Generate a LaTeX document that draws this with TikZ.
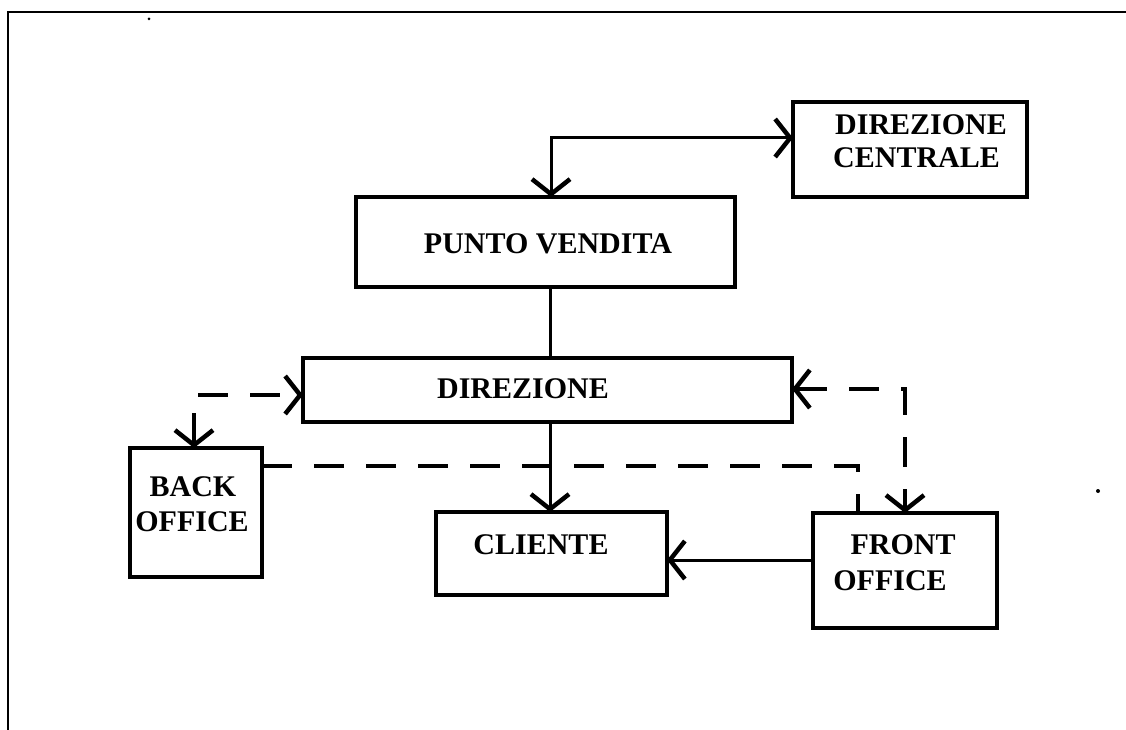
\documentclass[tikz,border=0pt]{standalone}
\usepackage{fontspec}
\setmainfont{Liberation Serif}
\usetikzlibrary{arrows.meta}
\begin{document}
\begin{tikzpicture}[x=1pt,y=-1pt,
  box/.style={draw,line width=3.5pt,rectangle,inner sep=0pt,outer sep=0pt,anchor=north west},
  lbl/.style={inner sep=0pt,font=\bfseries\fontsize{30}{35}\selectfont},
  conn/.style={line width=3pt,>={Straight Barb[length=15pt,width=38pt,line width=4.5pt]}},
  dashconn/.style={conn,line width=3.5pt,dash pattern=on 30pt off 22pt}]
\useasboundingbox (0,0) rectangle (1126,730);
\draw[line width=1.5pt] (1126,12) -- (8,12) -- (8,730);
\fill (149,19) circle (1.5pt);
\fill (1098,491) circle (2pt);
% boxes
\node[box,minimum width=234pt,minimum height=95pt] (dc) at (793,102) {};
\node[box,minimum width=379pt,minimum height=90pt] (pv) at (356,197) {};
\node[box,minimum width=489pt,minimum height=64pt] (dir) at (303,358) {};
\node[box,minimum width=132pt,minimum height=129pt] (bo) at (130,448) {};
\node[box,minimum width=231pt,minimum height=83pt] (cl) at (436,512) {};
\node[box,minimum width=184pt,minimum height=115pt] (fo) at (813,513) {};
% texts
\node[lbl,anchor=west] (dct1) at (835,125) {DIREZIONE};
\node[lbl,anchor=west] (dct2) at (833,158) {CENTRALE};
\node[lbl] (pvt) at (548,244) {PUNTO VENDITA};
\node[lbl] (dirt) at (523,389) {DIREZIONE};
\node[lbl] (bot1) at (193,487) {BACK};
\node[lbl] (bot2) at (192,522) {OFFICE};
\node[lbl] (clt) at (541,545) {CLIENTE};
\node[lbl] (fot1) at (903,545) {FRONT};
\node[lbl] (fot2) at (890,581) {OFFICE};
% connectors
\coordinate (k1) at (551,138);
\coordinate (k2) at (550,320);
\coordinate (k3) at (740,560);
\coordinate (k4) at (194,395);
\coordinate (k5) at (858,466);
\coordinate (k6) at (905,389);
\draw[conn,<->] (k1 |- pv.north) -- (k1) -- (k1 -| dc.west);
\draw[conn] (k2 |- pv.south) -- (k2 |- dir.north);
\draw[conn,->] (k2 |- dir.south) -- (k2 |- cl.north);
\draw[conn,->] (k3 -| fo.west) -- (k3 -| cl.east);
\draw[dashconn,<->] (k4 |- bo.north) -- (k4) -- (k4 -| dir.west);
\draw[dashconn] (k5 -| bo.east) -- (k5) -- (k5 |- fo.north);
\draw[dashconn,<->] (k6 -| dir.east) -- (k6) -- (k6 |- fo.north);
\end{tikzpicture}
\end{document}
